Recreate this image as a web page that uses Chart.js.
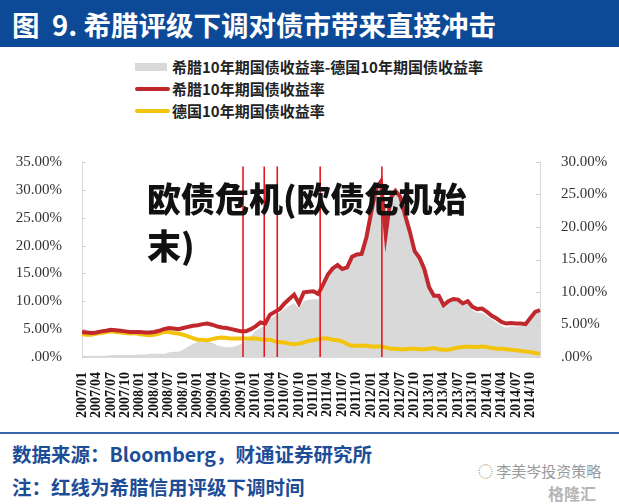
<!DOCTYPE html>
<html>
<head>
<meta charset="utf-8">
<script src="https://cdn.jsdelivr.net/npm/chart.js@4.4.1/dist/chart.umd.min.js"></script>
<style>
    body { margin: 0; width: 619px; height: 504px; background: #fff; overflow: hidden; position: relative; font-family: "Noto Sans CJK SC", sans-serif; }
    .title-bar { position: absolute; left: 0; top: 0; width: 619px; height: 47px; background: #0c4a98; }
    .title-bar span { position: absolute; left: 12px; top: 0; line-height: 48px; color: #fff; font-size: 27.5px; font-weight: 700; white-space: nowrap; }
    .legend { position: absolute; left: 135px; top: 56px; font-size: 15px; font-weight: 700; color: #222; }
    .legend div { height: 22px; line-height: 22px; position: relative; padding-left: 37px; white-space: nowrap; }
    .legend i { position: absolute; left: 0; }
    .sw-area { top: 7px; width: 32px; height: 8px; background: #d9d9d9; }
    .sw-line { top: 9px; width: 35px; height: 4px; border-radius: 2px; }
    #chart { position: absolute; left: 0; top: 140px; }
    .overlay { position: absolute; left: 147px; top: 174px; font-size: 34px; line-height: 47px; font-weight: 900; color: #111; white-space: nowrap; }
    .footer-line { position: absolute; left: 0; top: 432px; width: 619px; height: 2px; background: #3a63a8; }
    .footer { position: absolute; left: 12px; font-size: 19.5px; font-weight: 700; color: #1d4d97; white-space: nowrap; }
    .mark { position: absolute; color: #9a9a9a; white-space: nowrap; }
</style>
</head>
<body>
<div class="title-bar"><span>图&nbsp; 9. 希腊评级下调对债市带来直接冲击</span></div>

<div class="legend">
    <div><i class="sw-area"></i>希腊10年期国债收益率-德国10年期国债收益率</div>
    <div><i class="sw-line" style="background:#c0282e"></i>希腊10年期国债收益率</div>
    <div><i class="sw-line" style="background:#f2c40c"></i>德国10年期国债收益率</div>
</div>

<canvas id="chart" width="619" height="290"></canvas>

<div class="overlay">欧债危机(欧债危机始<br>末)</div>

<div class="footer-line"></div>
<div class="footer" style="top:439px">数据来源：Bloomberg，财通证券研究所</div>
<div class="footer" style="top:472px">注：红线为希腊信用评级下调时间</div>
<div class="mark" style="left:478px; top:460px; font-size:15px;">◌ 李美岑投资策略</div>
<div class="mark" style="left:548px; top:481px; font-size:16px; font-weight:700; color:#b5b5b5;">格隆汇</div>

<script>
// 月度数据 2007/01 - 2014/12
const months = [];
for (let y = 2007; y <= 2014; y++) {
    for (let m = 1; m <= 12; m++) {
        months.push(y + "/" + String(m).padStart(2, "0"));
    }
}

// 希腊10年期国债收益率 (%)
const greeceYield = [
    4.5, 4.4, 4.3, 4.4, 4.6, 4.7, 4.9, 4.8, 4.7, 4.6, 4.5, 4.5,
    4.5, 4.4, 4.4, 4.5, 4.7, 5.0, 5.2, 5.1, 5.0, 5.2, 5.4, 5.6,
    5.7, 5.9, 6.0, 5.8, 5.5, 5.3, 5.2, 5.0, 4.8, 4.6, 4.6, 5.0,
    5.5, 6.2, 6.0, 7.6, 8.1, 8.6, 9.6, 10.4, 11.2, 9.6, 11.6, 11.7,
    11.8, 11.3, 13.0, 14.8, 15.9, 16.5, 15.8, 16.1, 18.0, 18.4, 18.5, 21.5,
    26.0, 30.2, 31.5, 22.0, 28.5, 29.8, 28.8, 25.5, 22.5, 19.0, 17.8, 15.8,
    12.5, 11.0, 11.0, 9.3, 10.0, 10.4, 10.3, 9.6, 10.0, 9.0, 8.6, 8.7,
    8.1, 7.4, 6.9, 6.3, 6.0, 6.1, 6.0, 6.0, 5.9, 7.0, 8.1, 8.4
];

// 德国10年期国债收益率 (%)
const germanyYield = [
    4.1, 4.0, 4.0, 4.2, 4.3, 4.5, 4.6, 4.5, 4.4, 4.3, 4.2, 4.3,
    4.1, 4.0, 3.9, 4.0, 4.2, 4.5, 4.5, 4.3, 4.2, 4.0, 3.7, 3.4,
    3.1, 3.1, 3.0, 3.2, 3.4, 3.5, 3.4, 3.3, 3.3, 3.3, 3.3, 3.3,
    3.3, 3.2, 3.1, 3.1, 2.8, 2.7, 2.6, 2.4, 2.3, 2.4, 2.6, 2.9,
    3.0, 3.2, 3.3, 3.3, 3.1, 3.0, 2.8, 2.3, 2.0, 2.0, 2.0, 2.0,
    1.9, 1.9, 1.9, 1.7, 1.5, 1.5, 1.4, 1.4, 1.5, 1.5, 1.4, 1.4,
    1.5, 1.6, 1.4, 1.3, 1.3, 1.5, 1.7, 1.8, 1.9, 1.8, 1.8, 1.9,
    1.8, 1.6, 1.5, 1.5, 1.4, 1.3, 1.2, 1.1, 1.0, 0.9, 0.7, 0.6
];

// 利差 (右轴, %)
const spread = [
    0.2, 0.2, 0.2, 0.2, 0.2, 0.2, 0.3, 0.3, 0.3, 0.3, 0.3, 0.3,
    0.4, 0.4, 0.5, 0.5, 0.5, 0.5, 0.7, 0.8, 0.8, 1.1, 1.6, 2.0,
    2.3, 2.5, 2.5, 2.2, 1.8, 1.6, 1.5, 1.5, 1.7, 2.0, 2.6, 3.2,
    4.0, 4.5, 4.7, 5.9, 6.3, 6.8, 7.4, 7.9, 8.3, 7.4, 8.6, 8.8,
    8.9, 8.9, 10.5, 12.2, 13.4, 13.9, 13.3, 13.6, 15.3, 15.7, 15.8, 18.5,
    22.4, 26.0, 27.2, 22.0, 24.3, 26.2, 25.2, 22.0, 19.2, 16.0, 15.0, 13.3,
    10.5, 9.2, 9.3, 7.8, 8.4, 8.7, 8.5, 7.8, 8.2, 7.2, 6.8, 6.8,
    6.3, 5.8, 5.3, 4.8, 4.5, 4.7, 4.7, 4.8, 4.8, 5.8, 6.8, 7.0
];

// 希腊信用评级下调时间 (月份序号)
const downgradeIdx = [33.4, 37.8, 40.5, 49.4, 62.2];

const pct = (v) => (v === 0 ? ".00%" : v.toFixed(2) + "%");

const downgradeLines = {
    id: "downgradeLines",
    afterDatasetsDraw(chart) {
        const { ctx, scales } = chart;
        ctx.save();
        // 轴上小刻度
        ctx.strokeStyle = "#d0d0d0";
        ctx.lineWidth = 1;
        scales.y.ticks.forEach((t) => {
            const y = Math.round(scales.y.getPixelForValue(t.value)) + 0.5;
            ctx.beginPath();
            ctx.moveTo(scales.y.right, y);
            ctx.lineTo(scales.y.right + 4, y);
            ctx.stroke();
        });
        scales.y1.ticks.forEach((t) => {
            const y = Math.round(scales.y1.getPixelForValue(t.value)) + 0.5;
            ctx.beginPath();
            ctx.moveTo(scales.y1.left - 4, y);
            ctx.lineTo(scales.y1.left, y);
            ctx.stroke();
        });
        // 红线
        ctx.strokeStyle = "#e3191e";
        ctx.lineWidth = 1.6;
        downgradeIdx.forEach((idx) => {
            const x = scales.x.getPixelForValue(idx);
            ctx.beginPath();
            ctx.moveTo(x, scales.y.getPixelForValue(34.2));
            ctx.lineTo(x, scales.y.getPixelForValue(0));
            ctx.stroke();
        });
        ctx.restore();
    }
};

new Chart(document.getElementById("chart"), {
    type: "line",
    data: {
        labels: months,
        datasets: [
            {
                label: "希腊10年期国债收益率",
                data: greeceYield,
                yAxisID: "y",
                borderColor: "#c0282e",
                borderWidth: 4,
                pointRadius: 0,
                fill: false,
                order: 1
            },
            {
                label: "德国10年期国债收益率",
                data: germanyYield,
                yAxisID: "y",
                borderColor: "#f2c40c",
                borderWidth: 4,
                pointRadius: 0,
                fill: false,
                order: 2
            },
            {
                label: "希腊10年期国债收益率-德国10年期国债收益率",
                data: spread,
                yAxisID: "y1",
                borderWidth: 0,
                borderColor: "rgba(0,0,0,0)",
                backgroundColor: "#d9d9d9",
                pointRadius: 0,
                fill: "origin",
                order: 3
            }
        ]
    },
    options: {
        responsive: false,
        animation: false,
        layout: { padding: { top: 12, left: 0, right: 0, bottom: 0 } },
        plugins: {
            legend: { display: false },
            tooltip: { enabled: false }
        },
        scales: {
            x: {
                grid: { display: false },
                border: { color: "#d9d9d9" },
                afterFit: (scale) => { scale.height = 73; },
                ticks: {
                    autoSkip: false,
                    minRotation: 90,
                    maxRotation: 90,
                    padding: 7,
                    color: "#111",
                    font: { family: "Liberation Serif", size: 14, weight: "bold" },
                    callback: function (val, index) {
                        return index % 3 === 0 ? this.getLabelForValue(val) : null;
                    }
                }
            },
            y: {
                position: "left",
                min: 0,
                max: 35,
                grid: { display: false },
                border: { color: "#d9d9d9" },
                afterFit: (scale) => { scale.width = 82; },
                ticks: {
                    stepSize: 5,
                    padding: 12,
                    color: "#333",
                    font: { family: "Liberation Serif", size: 15 },
                    callback: (v) => pct(v)
                }
            },
            y1: {
                position: "right",
                min: 0,
                max: 30,
                grid: { display: false },
                border: { color: "#d9d9d9" },
                afterFit: (scale) => { scale.width = 79; },
                ticks: {
                    stepSize: 5,
                    padding: 13,
                    color: "#333",
                    font: { family: "Liberation Serif", size: 15 },
                    callback: (v) => pct(v)
                }
            }
        }
    },
    plugins: [downgradeLines]
});
</script>
</body>
</html>
